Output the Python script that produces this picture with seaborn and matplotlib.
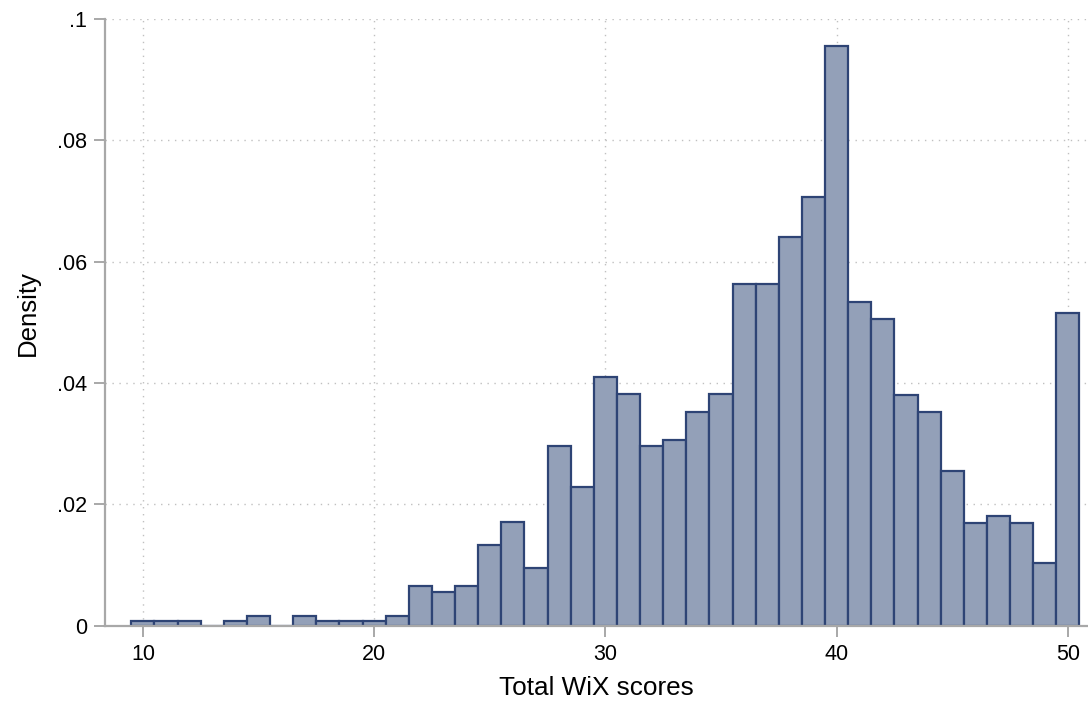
import matplotlib
matplotlib.use("Agg")
import matplotlib.pyplot as plt
import numpy as np
import pandas as pd
import seaborn as sns

# WiX score bins (centres) and density
scores = list(range(10, 51))
density = [
    0.0008, 0.0008, 0.0008, 0.0, 0.0008, 0.0017, 0.0, 0.0017, 0.0008, 0.0008,
    0.0008, 0.0017, 0.0066, 0.0056, 0.0066, 0.0133, 0.0171, 0.0095, 0.0296, 0.0229,
    0.0410, 0.0382, 0.0296, 0.0306, 0.0352, 0.0382, 0.0563, 0.0563, 0.0640, 0.0707,
    0.0955, 0.0533, 0.0505, 0.0381, 0.0352, 0.0256, 0.0170, 0.0181, 0.0170, 0.0103,
    0.0516,
]
y_ticks = [0, 0.02, 0.04, 0.06, 0.08, 0.1]
y_labels = ["0", ".02", ".04", ".06", ".08", ".1"]
x_ticks = [10, 20, 30, 40, 50]

df = pd.DataFrame({"score": scores, "density": density})

sns.set_style("white")
plt.rcParams["font.family"] = ["Liberation Sans", "DejaVu Sans"]
plt.rcParams["text.color"] = "black"
plt.rcParams["axes.labelcolor"] = "black"

fig = plt.figure(figsize=(10.88, 7.04), dpi=100)
ax = fig.add_axes([0.0965, 0.111, 0.9035, 0.862])

ax.grid(True, linestyle=(0, (1, 4)), color="#c0c0c0", linewidth=1.0)
ax.set_axisbelow(True)

# one bar per integer score, width 1
sns.histplot(df, x="score", weights="density", discrete=True, stat="count",
             color="#93a0b8", alpha=1.0, edgecolor="#2e4475", linewidth=1.6, ax=ax)

ax.set_xlim(8.36, 50.87)
ax.set_ylim(0, 0.1)
ax.set_xticks(x_ticks)
ax.set_xticklabels([str(t) for t in x_ticks])
ax.set_yticks(y_ticks)
ax.set_yticklabels(y_labels)
ax.tick_params(axis="both", which="both", direction="out", length=8, width=1.4,
               color="#a8a8a8", labelcolor="black", labelsize=15.5, pad=5,
               bottom=True, left=True)
ax.set_xlabel("Total WiX scores", fontsize=18.8, labelpad=8)
ax.set_ylabel("Density", fontsize=18.5)
ax.yaxis.set_label_coords(-0.066, 0.515)

for side in ["top", "right"]:
    ax.spines[side].set_visible(False)
for side in ["left", "bottom"]:
    ax.spines[side].set_color("#a8a8a8")
    ax.spines[side].set_linewidth(1.6)

plt.savefig("out.png", dpi=100)
plt.close()
